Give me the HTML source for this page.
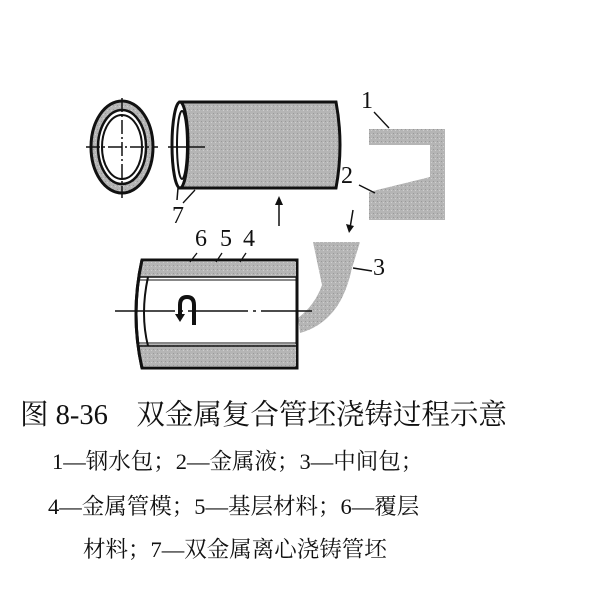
<!DOCTYPE html>
<html><head><meta charset="utf-8"><style>
html,body{margin:0;padding:0;background:#fff;}
body{width:600px;height:598px;position:relative;overflow:hidden;font-family:"Liberation Serif","Noto Serif CJK SC",serif;color:#111;}
.t{position:absolute;white-space:nowrap;line-height:1;}
</style></head><body>
<svg width="600" height="598" style="position:absolute;left:0;top:0" xmlns="http://www.w3.org/2000/svg">
<defs><pattern id="g" width="4" height="4" patternUnits="userSpaceOnUse"><rect width="4" height="4" fill="#b5b5b5"/><rect x="1" y="1" width="1" height="1" fill="#9a9a9a"/><rect x="3" y="2" width="1" height="1" fill="#cfcfcf"/></pattern></defs>
<ellipse cx="122" cy="147" rx="31" ry="46" fill="url(#g)" stroke="#111" stroke-width="3"/>
<ellipse cx="122" cy="147" rx="24" ry="37" fill="#fff" stroke="#111" stroke-width="2.5"/>
<ellipse cx="122" cy="147" rx="20" ry="32" fill="#fff" stroke="#111" stroke-width="2"/>
<line x1="86" y1="147" x2="158" y2="147" stroke="#111" stroke-width="1.5" stroke-dasharray="14,3,2,3"/>
<line x1="122" y1="98" x2="122" y2="198" stroke="#111" stroke-width="1.5" stroke-dasharray="14,3,2,3"/>
<path d="M180 102 L336 102 Q344 145 336 188 L180 188 Z" fill="url(#g)" stroke="#111" stroke-width="3"/>
<ellipse cx="180" cy="145" rx="8" ry="43" fill="#fff" stroke="#111" stroke-width="3"/>
<ellipse cx="182" cy="145" rx="5" ry="34" fill="#fff" stroke="#111" stroke-width="2"/>
<line x1="168" y1="147" x2="205" y2="147" stroke="#111" stroke-width="1.5"/>
<line x1="178" y1="188" x2="177" y2="200" stroke="#111" stroke-width="1.5"/>
<line x1="195" y1="190" x2="183" y2="203" stroke="#111" stroke-width="1.3"/>
<line x1="279" y1="226" x2="279" y2="200" stroke="#111" stroke-width="1.5"/>
<path d="M275 205 L279 196 L283 205 Z" fill="#111"/>
<path d="M369 129 L445 129 L445 220 L369 220 L369 192 L430 177 L430 145 L369 145 Z" fill="url(#g)"/>
<line x1="389" y1="128" x2="374" y2="112" stroke="#111" stroke-width="1.4"/>
<line x1="375" y1="193" x2="359" y2="185" stroke="#111" stroke-width="1.4"/>
<line x1="353" y1="210" x2="350" y2="228" stroke="#111" stroke-width="1.5"/>
<path d="M346 224 L349 233 L354 226 Z" fill="#111"/>
<path d="M313 242 L360 242 L352 268 Q345 300 330 315 Q318 328 300 333 L298 318 Q315 305 322 285 Z" fill="url(#g)"/>
<line x1="353" y1="268" x2="372" y2="271" stroke="#111" stroke-width="1.4"/>
<path d="M142 260 L297 260 L297 368 L142 368 Q130 314 142 260 Z" fill="#fff" stroke="#111" stroke-width="3"/>
<rect x="140" y="262" width="156" height="15" fill="url(#g)"/>
<rect x="140" y="344" width="156" height="22" fill="url(#g)"/>
<line x1="138" y1="277" x2="296" y2="277" stroke="#111" stroke-width="1.5"/>
<line x1="138" y1="280" x2="296" y2="280" stroke="#111" stroke-width="1"/>
<line x1="138" y1="343" x2="296" y2="343" stroke="#111" stroke-width="1"/>
<line x1="138" y1="346" x2="296" y2="346" stroke="#111" stroke-width="1.5"/>
<path d="M142 260 Q130 314 142 368" fill="none" stroke="#111" stroke-width="3"/>
<path d="M148 277 Q140 314 148 346" fill="none" stroke="#111" stroke-width="2"/>
<line x1="115" y1="311" x2="312" y2="311" stroke="#111" stroke-width="1.5" stroke-dasharray="60,5,3,5"/>
<path d="M180 318 L180 305 Q180 297 187 297 Q194 297 194 305 L194 325" fill="none" stroke="#111" stroke-width="4"/>
<path d="M175 314 L180 322 L185 314 Z" fill="#111"/>
<line x1="190" y1="262" x2="197" y2="253" stroke="#111" stroke-width="1.3"/>
<line x1="216" y1="262" x2="222" y2="253" stroke="#111" stroke-width="1.3"/>
<line x1="240" y1="262" x2="246" y2="253" stroke="#111" stroke-width="1.3"/>
</svg>
<div class="t" style="left:361px;top:89px;font-size:24px">1</div>
<div class="t" style="left:341px;top:164px;font-size:24px">2</div>
<div class="t" style="left:373px;top:256px;font-size:24px">3</div>
<div class="t" style="left:172px;top:204px;font-size:24px">7</div>
<div class="t" style="left:195px;top:227px;font-size:24px">6</div>
<div class="t" style="left:220px;top:227px;font-size:24px">5</div>
<div class="t" style="left:243px;top:227px;font-size:24px">4</div>
<div class="t" style="left:20px;top:402px;font-size:28.5px">图 8-36　双金属复合管坯浇铸过程示意</div>
<div class="t" style="left:52px;top:451px;font-size:22.5px">1—钢水包；2—金属液；3—中间包；</div>
<div class="t" style="left:48px;top:496px;font-size:22.5px">4—金属管模；5—基层材料；6—覆层</div>
<div class="t" style="left:83px;top:539px;font-size:22.5px">材料；7—双金属离心浇铸管坯</div>
</body></html>
